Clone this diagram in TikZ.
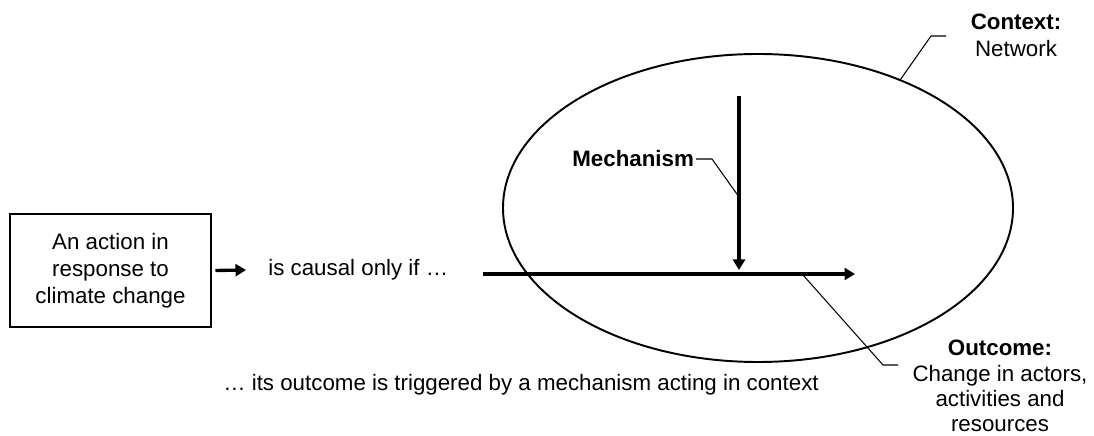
\documentclass[tikz,border=0pt]{standalone}
\usepackage{fontspec}
\setmainfont{Liberation Sans}
\usetikzlibrary{shapes.geometric, arrows.meta, positioning, calc}

\begin{document}
\begin{tikzpicture}[
    txt/.style={font=\fontsize{12.7}{15.3}\selectfont, align=center},
    arr/.style={line width=1.9pt, -{Triangle[length=2.1mm, width=2.4mm]}},
    leader/.style={line width=0.6pt},
  ]
  \useasboundingbox (0,0) rectangle (21.88,8.72);

  % the action
  \node[txt, draw, line width=1.1pt, minimum width=4.02cm, minimum height=2.26cm, inner sep=0pt] (action) at (2.21,3.31) {An action in\\response to\\climate change};
  \node[txt, anchor=west, inner xsep=0.44cm] (causal) at (4.92,3.32) {is causal only if \dots};
  \draw[arr] ([xshift=2pt]action.east) -- (causal.west);

  % context
  \node[draw, ellipse, line width=1.1pt, minimum width=10.2cm, minimum height=6.16cm, outer sep=0pt] (ctxell) at (15.16,4.56) {};
  \node[txt] (ctx) at (20.32,8.02) {\textbf{Context:}\\Network};
  \draw[leader] (ctxell.42) -- (18.62,8.0) -- (18.92,8.0);

  % outcome
  \coordinate (ostart) at (9.66,3.24);
  \coordinate (oend) at (17.1,3.24);
  \draw[arr] (ostart) -- (oend);
  \node[txt] (outc) at (20.0,1.0) {\textbf{Outcome:}\\[-1pt]Change in actors,\\[-1pt]activities and\\[-1pt]resources};
  \draw[leader] (16.06,3.22) -- (17.66,1.42) -- (17.96,1.42);

  % mechanism
  \coordinate (mtop) at (14.78,6.8);
  \coordinate (mtip) at (14.78,3.32);
  \draw[arr] (mtop) -- (mtip);
  \node[txt, anchor=east, inner sep=1pt] (mech) at (13.92,5.54) {\textbf{Mechanism}};
  \draw[leader] (mech.east) -- ++(0.32,0) -- (14.78,4.78);

  \node[txt] (trigger) at (10.42,1.02) {\dots\ its outcome is triggered by a mechanism acting in context};
\end{tikzpicture}
\end{document}
